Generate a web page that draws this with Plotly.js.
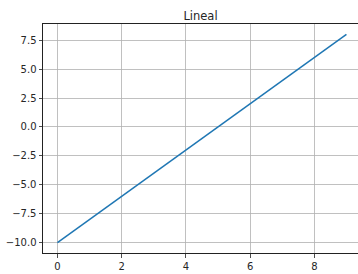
<!DOCTYPE html>
<html>
<head>
<meta charset="utf-8">
<script src="https://cdn.plot.ly/plotly-3.0.1.min.js"></script>
<style>html,body{margin:0;padding:0;background:#fff;}#chart{width:358px;height:274px;}</style>
</head>
<body>
<div id="chart"></div>
<script>
const xValues = [0, 1, 2, 3, 4, 5, 6, 7, 8, 9];
const yValues = [-10, -8, -6, -4, -2, 0, 2, 4, 6, 8];
const xTicks = [0, 2, 4, 6, 8];
const yTicks = [-10, -7.5, -5, -2.5, 0, 2.5, 5, 7.5];
const titleText = "Lineal";

const font = {family: "DejaVu Sans, sans-serif", size: 10, color: "#262626"};

Plotly.newPlot("chart", [{
  x: xValues, y: yValues, type: "scatter", mode: "lines",
  line: {color: "#1f77b4", width: 1.5}
}], {
  width: 358, height: 274,
  margin: {l: 43, r: 0, t: 24, b: 21, pad: 0},
  paper_bgcolor: "#fff", plot_bgcolor: "#fff",
  showlegend: false,
  title: {text: titleText, font: {family: "DejaVu Sans, sans-serif", size: 11.5, color: "#262626"}, x: 0.5, xref: "paper", xanchor: "center", y: 1, yref: "paper", yanchor: "bottom", pad: {b: 4}},
  xaxis: {
    range: [-0.45, 9.36], tickvals: xTicks, ticktext: xTicks.map(String),
    showgrid: true, gridcolor: "#b0b0b0", gridwidth: 0.8, zeroline: false,
    showline: true, linecolor: "#222", linewidth: 1, mirror: true,
    ticks: "outside", ticklen: 3.5, tickwidth: 0.8, tickcolor: "#222",
    tickfont: font
  },
  yaxis: {
    range: [-10.9, 8.9], tickvals: yTicks, tickformat: ".1f",
    showgrid: true, gridcolor: "#b0b0b0", gridwidth: 0.8, zeroline: false,
    showline: true, linecolor: "#222", linewidth: 1, mirror: false,
    ticks: "outside", ticklen: 3.5, tickwidth: 0.8, tickcolor: "#222",
    tickfont: font
  }
}, {staticPlot: true, displayModeBar: false});
</script>
</body>
</html>
